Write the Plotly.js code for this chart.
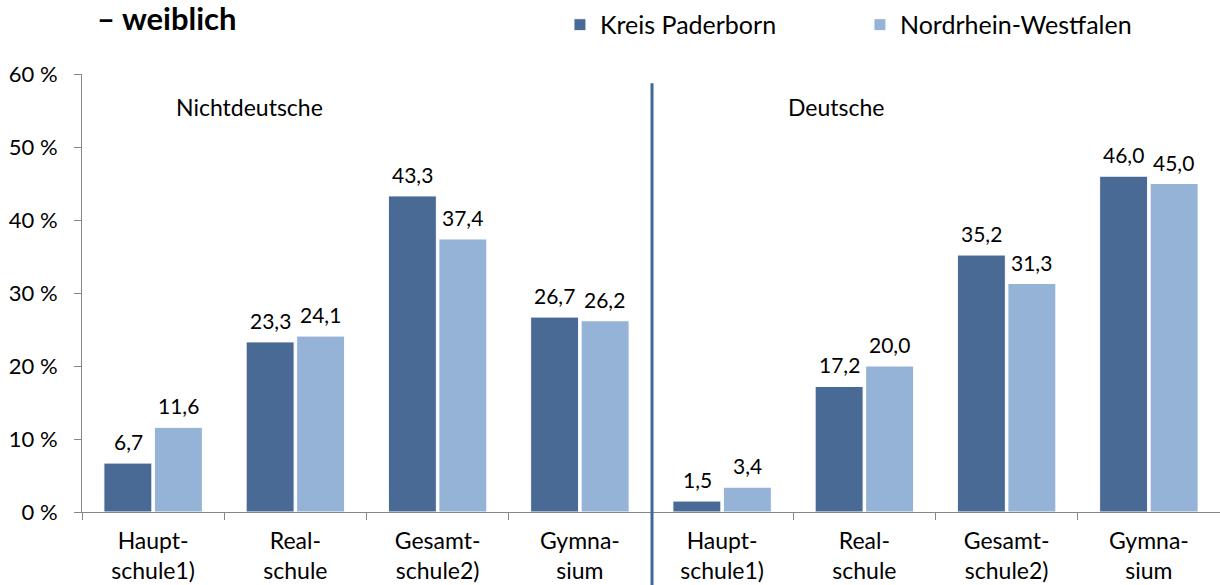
<!DOCTYPE html>
<html>
<head>
<meta charset="utf-8">
<script src="https://cdn.plot.ly/plotly-3.0.1.min.js"></script>
<style>
  html, body { margin: 0; padding: 0; background: #fff; }
  #chart { width: 1220px; height: 585px; }
</style>
</head>
<body>
<div id="chart"></div>
<script>
const kategorien = ['Haupt-<br>schule1)', 'Real-<br>schule', 'Gesamt-<br>schule2)', 'Gymna-<br>sium',
                    'Haupt-<br>schule1)', 'Real-<br>schule', 'Gesamt-<br>schule2)', 'Gymna-<br>sium'];
const kreisPaderborn = [6.7, 23.3, 43.3, 26.7, 1.5, 17.2, 35.2, 46.0];
const nrw = [11.6, 24.1, 37.4, 26.2, 3.4, 20.0, 31.3, 45.0];
const yTicks = [0, 10, 20, 30, 40, 50, 60];
const gruppen = ['Nichtdeutsche', 'Deutsche'];

const FONT = 'Lato, "Open Sans", sans-serif';
const dunkel = '#4A6A96';
const hell = '#95B3D7';

const xPos = kategorien.map((k, i) => i);
const fmt = v => v.toFixed(1).replace('.', ',');

const traces = [
    {
        type: 'bar', name: 'Kreis Paderborn', x: xPos, y: kreisPaderborn,
        marker: { color: dunkel, line: { color: '#ffffff', width: 1 } },
        hoverinfo: 'skip'
    },
    {
        type: 'bar', name: 'Nordrhein-Westfalen', x: xPos, y: nrw,
        marker: { color: hell, line: { color: '#ffffff', width: 1 } },
        hoverinfo: 'skip'
    }
];

// Wertebeschriftungen über den Balken
const annotations = [];
xPos.forEach((x, i) => {
    annotations.push({ x: x, y: kreisPaderborn[i], xref: 'x', yref: 'y', text: fmt(kreisPaderborn[i]),
        showarrow: false, yanchor: 'bottom', xshift: -25, yshift: 7, font: { family: FONT, size: 21, color: '#000' } });
    annotations.push({ x: x, y: nrw[i], xref: 'x', yref: 'y', text: fmt(nrw[i]),
        showarrow: false, yanchor: 'bottom', xshift: 25, yshift: 7, font: { family: FONT, size: 21, color: '#000' } });
});
annotations.push({ x: 0.147, y: 0.925, xref: 'paper', yref: 'paper', text: gruppen[0], showarrow: false,
    xanchor: 'center', yanchor: 'middle', font: { family: FONT, size: 23, color: '#000' } });
annotations.push({ x: 0.663, y: 0.925, xref: 'paper', yref: 'paper', text: gruppen[1], showarrow: false,
    xanchor: 'center', yanchor: 'middle', font: { family: FONT, size: 23, color: '#000' } });
annotations.push({ x: 0.011, y: 1.128, xref: 'paper', yref: 'paper', text: '<b>– weiblich</b>', showarrow: false,
    xanchor: 'left', yanchor: 'middle', font: { family: FONT, size: 31, color: '#000' } });

const layout = {
    width: 1220, height: 585,
    margin: { l: 82, r: 0, t: 74, b: 73 },
    paper_bgcolor: '#fff', plot_bgcolor: '#fff',
    font: { family: FONT, color: '#000' },
    barmode: 'group', bargap: 0.29, bargroupgap: 0.05,
    showlegend: true,
    legend: {
        orientation: 'h', x: 0.42, y: 1.112, xanchor: 'left', yanchor: 'middle',
        font: { family: FONT, size: 25, color: '#000' }, entrywidth: 255, entrywidthmode: 'pixels',
        itemwidth: 30, traceorder: 'normal'
    },
    xaxis: {
        range: [-0.5, 7.5], tickmode: 'array', tickvals: xPos, ticktext: kategorien,
        ticks: '', showgrid: false, zeroline: false, showline: true, linecolor: '#868686', linewidth: 1,
        tickfont: { family: FONT, size: 23, color: '#000' }, fixedrange: true, ticklabelstandoff: 8,
        minor: { tickmode: 'array', tickvals: [-0.5, 0.5, 1.5, 2.5, 3.5, 4.5, 5.5, 6.5, 7.5],
                 ticks: 'outside', ticklen: 7, tickcolor: '#868686', showgrid: false }
    },
    yaxis: {
        range: [0, 60], tickmode: 'array', tickvals: yTicks, ticktext: yTicks.map(v => v + ' %'),
        ticks: 'outside', ticklen: 7, tickcolor: '#868686', showgrid: false, zeroline: false,
        showline: true, linecolor: '#868686', linewidth: 1, ticklabelstandoff: 12,
        tickfont: { family: FONT, size: 22, color: '#000' }, fixedrange: true
    },
    shapes: [
        { type: 'line', xref: 'paper', yref: 'paper', x0: 0.5009, x1: 0.5009, y0: 0.979, y1: -0.2,
          line: { color: '#3F679A', width: 3 } }
    ],
    annotations: annotations
};

Plotly.newPlot('chart', traces, layout, { displayModeBar: false, staticPlot: true });
</script>
</body>
</html>
